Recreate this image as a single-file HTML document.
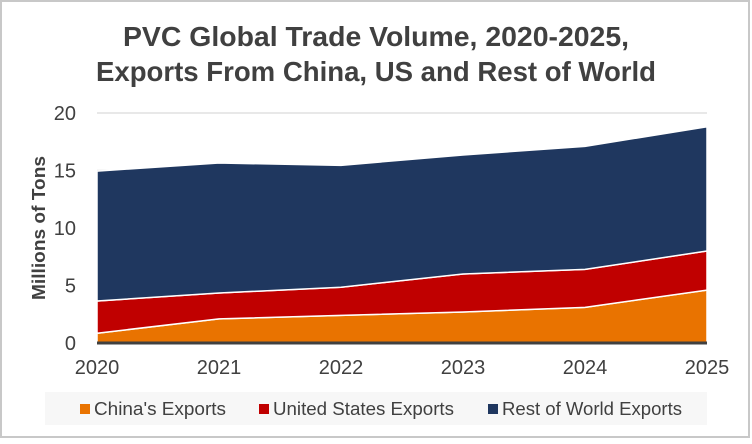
<!DOCTYPE html>
<html><head><meta charset="utf-8"><style>
html,body{margin:0;padding:0;background:#fff}
body{width:752px;height:439px;overflow:hidden;font-family:"Liberation Sans",sans-serif}
</style></head><body>
<svg id="chart" width="752" height="439">
<rect x="1" y="1" width="748" height="436" fill="#fff" stroke="#c8c8c8" stroke-width="2"/>
<text x="376" y="46" text-anchor="middle" font-size="28" font-weight="bold" fill="#404040" textLength="506" lengthAdjust="spacingAndGlyphs">PVC Global Trade Volume, 2020-2025,</text>
<text x="376" y="81" text-anchor="middle" font-size="28" font-weight="bold" fill="#404040" textLength="560" lengthAdjust="spacingAndGlyphs">Exports From China, US and Rest of World</text>
<text transform="translate(45,228) rotate(-90)" text-anchor="middle" font-size="18" font-weight="bold" fill="#404040" textLength="144" lengthAdjust="spacingAndGlyphs">Millions of Tons</text>
<g id="grid"></g><g id="areas"></g><g id="axes"></g>
<rect x="45" y="392" width="662" height="33" fill="#f7f7f7"/>
<g><rect x="80" y="404" width="10" height="10" fill="#e97300"/><text x="94" y="415" font-size="18" fill="#404040" textLength="132" lengthAdjust="spacingAndGlyphs">China's  Exports</text></g>
<g><rect x="259" y="404" width="10" height="10" fill="#c00000"/><text x="273" y="415" font-size="18" fill="#404040" textLength="181" lengthAdjust="spacingAndGlyphs">United States Exports</text></g>
<g><rect x="488" y="404" width="10" height="10" fill="#1f375f"/><text x="502" y="415" font-size="18" fill="#404040" textLength="180" lengthAdjust="spacingAndGlyphs">Rest of World Exports</text></g>
</svg>
<script>
const categories = ["2020","2021","2022","2023","2024","2025"];
const chinaValues = [0.85, 2.1, 2.4, 2.7, 3.1, 4.6];
const usValues = [2.8, 2.25, 2.45, 3.3, 3.3, 3.4];
const rowValues = [11.3, 11.3, 10.6, 10.35, 10.7, 10.8];
const yTicks = [0, 5, 10, 15, 20];
const NS = "http://www.w3.org/2000/svg";
const x0 = 97, x1 = 707, yBase = 343, yTop = 113, yMax = 20;
function xs(i){ return x0 + i*(x1-x0)/(categories.length-1); }
function ys(v){ return yBase - v*(yBase-yTop)/yMax; }
const grid = document.getElementById('grid');
const axes = document.getElementById('axes');
const areas = document.getElementById('areas');
yTicks.forEach(t=>{
  if(t>0){
    const l=document.createElementNS(NS,'line');
    l.setAttribute('x1',x0);l.setAttribute('x2',x1);l.setAttribute('y1',ys(t));l.setAttribute('y2',ys(t));
    l.setAttribute('stroke','#e0e0e0');l.setAttribute('stroke-width','1.5');
    
    
    grid.appendChild(l);
  }
  const tx=document.createElementNS(NS,'text');
  tx.setAttribute('x',76);tx.setAttribute('y',ys(t)+7);tx.setAttribute('text-anchor','end');
  tx.setAttribute('font-size','20');tx.setAttribute('fill','#404040');
  tx.textContent=t;
  
  
  axes.appendChild(tx);
});
const series=[{v:chinaValues,c:'#e97300',n:'area-china'},{v:usValues,c:'#c00000',n:'area-us'},{v:rowValues,c:'#1f375f',n:'area-rest-of-world'}];
let base=categories.map(()=>0);
series.forEach(s=>{
  const top=base.map((b,i)=>b+s.v[i]);
  let d='M'+categories.map((c,i)=>xs(i)+','+ys(top[i])).join(' L');
  for(let i=categories.length-1;i>=0;i--) d+=' L'+xs(i)+','+ys(base[i]);
  d+=' Z';
  const p=document.createElementNS(NS,'path');
  p.setAttribute('d',d);p.setAttribute('fill',s.c);p.setAttribute('stroke','#fff');p.setAttribute('stroke-width','1.5');
  
  
  areas.appendChild(p);
  base=top;
});
const ax=document.createElementNS(NS,'line');
ax.setAttribute('x1',x0);ax.setAttribute('x2',x1);ax.setAttribute('y1',yBase);ax.setAttribute('y2',yBase);
ax.setAttribute('stroke','#404040');ax.setAttribute('stroke-width','3');


axes.appendChild(ax);
categories.forEach((c,i)=>{
  const tx=document.createElementNS(NS,'text');
  tx.setAttribute('x',xs(i));tx.setAttribute('y',374);tx.setAttribute('text-anchor','middle');
  tx.setAttribute('font-size','20');tx.setAttribute('fill','#404040');
  tx.textContent=c;
  
  
  axes.appendChild(tx);
});
</script>
</body></html>
